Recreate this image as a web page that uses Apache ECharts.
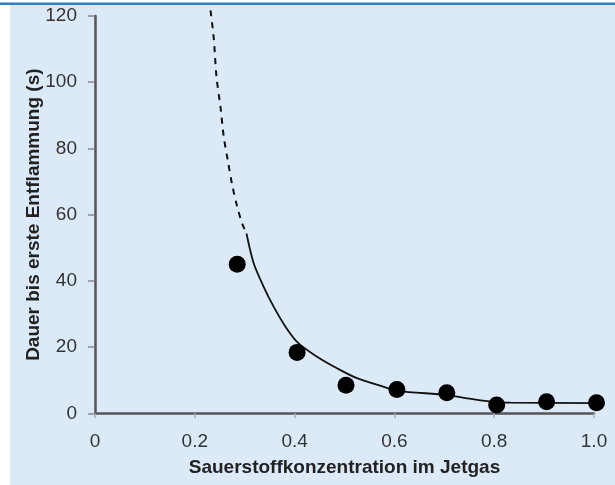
<!DOCTYPE html>
<html>
<head>
<meta charset="utf-8">
<script src="https://cdn.jsdelivr.net/npm/echarts@6/dist/echarts.min.js"></script>
<style>html,body{margin:0;padding:0;background:#fff}#c{width:615px;height:485px}</style>
</head>
<body>
<div id="c"></div>
<script>
var xTicks = [0, 0.2, 0.4, 0.6, 0.8, 1.0];
var yTicks = [0, 20, 40, 60, 80, 100, 120];
var measuredX = [0.285, 0.405, 0.503, 0.605, 0.705, 0.805, 0.905, 1.005];
var measuredY = [45.0, 18.4, 8.5, 7.2, 6.2, 2.5, 3.5, 3.2];
var fitSolidX = [0.3036, 0.318, 0.338, 0.358, 0.382, 0.408, 0.445, 0.485, 0.525, 0.579, 0.606, 0.706, 0.746, 0.806, 0.833, 1.007];
var fitSolidY = [54.3, 45.3, 38.2, 32.2, 26.1, 21.1, 17.1, 13.6, 10.6, 8.0, 6.8, 5.5, 4.5, 3.3, 3.2, 3.1];
var fitDashX = [0.2315, 0.238, 0.2435, 0.2515, 0.258, 0.266, 0.275, 0.285, 0.295, 0.3036];
var fitDashY = [121.7, 113.2, 101.6, 92.5, 83.5, 76.5, 68.9, 62.4, 57.3, 54.3];

function zip(a, b) { return a.map(function (v, i) { return [v, b[i]]; }); }

var FONT = "'Liberation Sans', Arial, sans-serif";
var chart = echarts.init(document.getElementById('c'), null, { renderer: 'canvas' });
chart.setOption({
  backgroundColor: '#ffffff',
  animation: false,
  graphic: [
    { type: 'rect', z: -10, shape: { x: 10, y: 4, width: 605, height: 481 }, style: { fill: '#dceaf8' } },
    { type: 'rect', z: -9, shape: { x: 0, y: 2.5, width: 615, height: 2.5 }, style: { fill: '#2f7fc3' } }
  ],
  grid: { left: 95, top: 16, width: 499, height: 397.3 },
  xAxis: {
    type: 'value', min: 0, max: 1, interval: 0.2,
    name: 'Sauerstoffkonzentration im Jetgas', nameLocation: 'middle', nameGap: 45,
    nameMoveOverlap: false,
    nameTextStyle: { fontFamily: FONT, fontWeight: 'bold', fontSize: 19, color: '#222' },
    axisLine: { show: true, lineStyle: { color: '#555', width: 2.5 } },
    axisTick: { show: true, length: 5, lineStyle: { color: '#aab', width: 1.5 } },
    axisLabel: { margin: 19, fontFamily: FONT, fontSize: 19, color: '#333',
      formatter: function (v) { return v === 0 ? '0' : v.toFixed(1); } },
    splitLine: { show: false }
  },
  yAxis: {
    type: 'value', min: 0, max: 120, interval: 20,
    name: 'Dauer bis erste Entflammung (s)', nameLocation: 'middle', nameGap: 52,
    nameMoveOverlap: false,
    nameTextStyle: { fontFamily: FONT, fontWeight: 'bold', fontSize: 19, color: '#222' },
    axisLine: { show: true, lineStyle: { color: '#555', width: 2.5 } },
    axisTick: { show: true, length: 7, lineStyle: { color: '#888', width: 1.5 } },
    axisLabel: { margin: 18, fontFamily: FONT, fontSize: 19, color: '#333' },
    splitLine: { show: false }
  },
  series: [
    { type: 'line', data: zip(fitDashX, fitDashY), showSymbol: false, smooth: 0.3, clip: false,
      lineStyle: { color: '#111', width: 2, type: [6, 6] }, z: 3 },
    { type: 'line', data: zip(fitSolidX, fitSolidY), showSymbol: false, smooth: 0.3, clip: false,
      lineStyle: { color: '#111', width: 1.8 }, z: 3 },
    { type: 'scatter', data: zip(measuredX, measuredY), symbolSize: 17, clip: false,
      itemStyle: { color: '#000', opacity: 1 }, z: 4 }
  ]
});
</script>
</body>
</html>
